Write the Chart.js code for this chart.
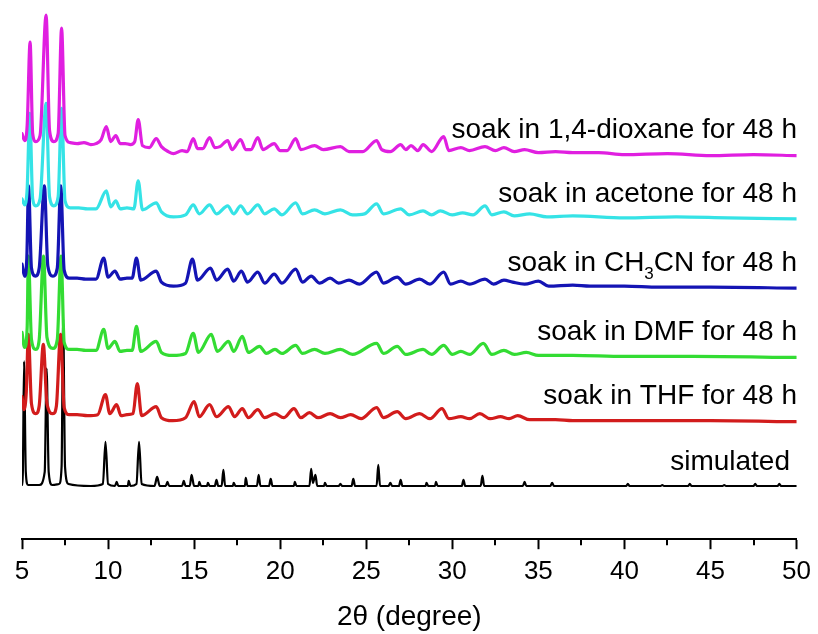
<!DOCTYPE html>
<html>
<head>
<meta charset="utf-8">
<title>PXRD patterns after solvent soaking</title>
<script src="https://cdn.jsdelivr.net/npm/chart.js@4.4.1/dist/chart.umd.min.js"></script>
<style>
  html, body { margin: 0; padding: 0; background: #fff; }
  #wrap { width: 818px; height: 634px; }
</style>
</head>
<body>
<div id="wrap"><canvas id="xrd" width="818" height="634"></canvas></div>
<script>
// pattern labels, top to bottom
const labels = [
  'soak in 1,4-dioxane for 48 h',
  'soak in acetone for 48 h',
  'soak in CH3CN for 48 h',
  'soak in DMF for 48 h',
  'soak in THF for 48 h',
  'simulated',
];

// vertical offset of each pattern in the stack (intensity units)
const offsets = [382, 319, 250, 181, 117, 52];

// [2theta, intensity above offset]
const dioxane = [
  [5.0, 22], [5.15, 15], [5.3, 30], [5.47, 113], [5.62, 22], [5.8, 14],
  [6.05, 20], [6.4, 140], [6.6, 25], [6.85, 14], [7.1, 22], [7.3, 127],
  [7.5, 20], [7.8, 13], [8.2, 12], [8.6, 13], [9.0, 11], [9.3, 12], [9.6, 16], [9.9, 29],
  [10.15, 14], [10.45, 20], [10.7, 12], [11.0, 12], [11.3, 11], [11.55, 14], [11.75, 36],
  [12.0, 10], [12.4, 8], [12.8, 17], [13.1, 9], [13.5, 4], [13.8, 2],
  [14.3, 5], [14.6, 4], [14.95, 17], [15.2, 7], [15.5, 7], [15.9, 18],
  [16.2, 8], [16.5, 9], [16.95, 15], [17.2, 6], [17.7, 16], [18.0, 6],
  [18.3, 6], [18.7, 18], [19.0, 6], [19.65, 12], [20.0, 5], [20.4, 5],
  [20.9, 17], [21.2, 6], [22.0, 10], [22.5, 6], [23.5, 9], [24.0, 4],
  [24.8, 4], [25.6, 15], [25.9, 6], [26.4, 4], [27.0, 11], [27.3, 6],
  [27.6, 10], [28.0, 5], [28.3, 11], [28.8, 4], [29.5, 19], [29.8, 5],
  [30.5, 8], [31.0, 5], [31.9, 9], [32.5, 5], [33.0, 8], [33.6, 4],
  [34.2, 6], [35.0, 3], [36.0, 4], [37.0, 3], [38.5, 3], [40.0, 1], [42.5, 2], [45.0, 0],
  [47.5, 1], [50.0, 0],
];

const acetone = [
  [5.0, 20], [5.15, 14], [5.3, 30], [5.45, 105], [5.62, 20], [5.8, 13],
  [6.05, 20], [6.4, 115], [6.6, 22], [6.85, 13], [7.1, 22], [7.3, 110],
  [7.5, 18], [7.8, 11], [8.3, 11], [8.8, 10], [9.3, 10], [9.9, 28], [10.15, 12],
  [10.45, 18], [10.7, 10], [11.1, 11], [11.5, 10], [11.75, 38], [12.0, 9], [12.8, 16],
  [13.1, 7], [13.8, 2], [14.5, 4], [14.95, 14], [15.3, 5], [15.9, 14],
  [16.3, 5], [16.95, 13], [17.3, 5], [17.7, 13], [18.1, 5], [18.7, 14],
  [19.1, 5], [19.65, 10], [20.1, 4], [20.9, 16], [21.3, 5], [22.0, 9],
  [22.6, 5], [23.5, 9], [24.2, 4], [24.9, 5], [25.6, 15], [26.0, 5], [27.0, 10],
  [27.5, 4], [28.3, 8], [28.8, 4], [29.3, 8], [30.0, 4], [30.6, 6], [31.2, 4], [31.9, 13],
  [32.3, 4], [33.0, 7], [33.6, 3], [34.5, 5], [35.5, 2], [37.0, 3], [40.0, 1],
  [43.0, 2], [46.0, 1], [50.0, 0],
];

const acetonitrile = [
  [5.0, 24], [5.15, 12], [5.28, 30], [5.38, 102], [5.55, 20], [5.78, 12],
  [6.0, 20], [6.3, 102], [6.5, 22], [6.8, 12], [7.05, 20], [7.25, 102],
  [7.45, 18], [7.75, 10], [8.2, 10], [8.7, 9], [9.3, 9], [9.75, 30], [10.0, 11],
  [10.4, 17], [10.7, 9], [11.1, 10], [11.4, 10], [11.65, 30], [11.9, 8], [12.8, 17],
  [13.1, 6], [13.8, 2], [14.5, 5], [14.9, 29], [15.2, 8], [15.95, 20],
  [16.3, 8], [16.95, 19], [17.3, 7], [17.75, 17], [18.1, 6], [18.7, 16],
  [19.1, 5], [19.65, 14], [20.1, 5], [20.9, 19], [21.3, 6], [21.8, 12],
  [22.3, 5], [22.9, 10], [23.4, 5], [24.0, 8], [24.6, 4], [25.6, 16],
  [26.0, 5], [26.8, 11], [27.3, 4], [28.1, 9], [28.7, 4], [29.5, 16],
  [29.9, 4], [30.5, 7], [31.0, 4], [31.9, 9], [32.4, 4], [33.0, 8],
  [33.5, 6], [34.2, 4], [35.0, 7], [35.6, 2], [37.0, 3], [38.0, 2], [40.0, 2],
  [42.0, 1], [45.0, 1], [50.0, 0],
];

const dmf = [
  [5.0, 25], [5.15, 10], [5.3, 30], [5.37, 101], [5.55, 18], [5.8, 8],
  [6.0, 18], [6.25, 101], [6.45, 20], [6.8, 9], [7.05, 18], [7.27, 101],
  [7.45, 15], [7.75, 8], [8.2, 8], [8.7, 7], [9.3, 7], [9.75, 28], [10.0, 9],
  [10.4, 16], [10.7, 6], [11.1, 7], [11.4, 7], [11.65, 31], [11.9, 6], [12.8, 16],
  [13.1, 5], [13.75, 2], [14.5, 4], [14.95, 24], [15.25, 5], [16.0, 23],
  [16.35, 6], [17.0, 16], [17.3, 6], [17.8, 21], [18.15, 5], [18.8, 11],
  [19.2, 4], [19.7, 8], [20.1, 4], [20.9, 12], [21.3, 4], [22.0, 8],
  [22.6, 4], [23.5, 8], [24.2, 3], [25.6, 14], [26.0, 4], [26.8, 11],
  [27.3, 3], [28.3, 8], [28.8, 3], [29.5, 12], [30.0, 3], [30.5, 6],
  [31.0, 3], [31.8, 14], [32.3, 3], [33.0, 7], [33.6, 3], [34.3, 5],
  [35.0, 2], [37.0, 2], [40.0, 1], [44.0, 1], [50.0, 0],
];

const thf = [
  [5.0, 25], [5.12, 12], [5.25, 30], [5.37, 87], [5.55, 18], [5.8, 8],
  [6.0, 16], [6.24, 77], [6.45, 18], [6.8, 8], [7.0, 16], [7.24, 87],
  [7.45, 14], [7.75, 7], [8.2, 7], [8.8, 6], [9.4, 7], [9.85, 27], [10.1, 8],
  [10.5, 17], [10.75, 6], [11.1, 7], [11.45, 8], [11.7, 38], [11.95, 6], [12.8, 15],
  [13.1, 4], [13.75, 1], [14.5, 4], [15.0, 20], [15.3, 5], [15.9, 17],
  [16.3, 5], [17.0, 15], [17.35, 5], [17.8, 13], [18.15, 4], [18.7, 12],
  [19.1, 4], [19.7, 8], [20.2, 4], [20.8, 13], [21.2, 4], [21.7, 9],
  [22.2, 4], [22.9, 8], [23.5, 4], [24.1, 7], [24.7, 3], [25.6, 14],
  [26.0, 4], [26.8, 10], [27.3, 3], [28.1, 8], [28.7, 3], [29.4, 13],
  [29.8, 3], [30.5, 5], [31.0, 3], [31.6, 8], [32.2, 3], [32.8, 5],
  [33.3, 3], [33.8, 6], [34.5, 2], [36.0, 2], [37.0, 1], [40.0, 1], [45.0, 1], [50.0, 0],
];

const simulated = [
  [5.0, 2], [5.05, 15], [5.12, 125], [5.22, 15], [5.35, 2], [6.0, 2],
  [6.32, 15], [6.43, 118], [6.55, 15], [6.75, 2], [7.15, 3], [7.3, 20],
  [7.39, 167], [7.5, 20], [7.7, 3], [9.0, 1], [9.7, 3], [9.85, 45],
  [10.0, 3], [10.4, 1], [10.5, 5], [10.6, 1], [11.15, 1], [11.2, 6],
  [11.3, 1], [11.65, 3], [11.8, 45], [11.95, 3], [12.7, 1], [12.85, 10],
  [13.0, 1], [13.35, 1], [13.45, 5], [13.55, 1], [14.3, 1], [14.4, 6],
  [14.5, 1], [14.75, 1], [14.85, 12], [15.0, 1], [15.25, 1], [15.3, 5],
  [15.4, 1], [15.75, 1], [15.8, 4], [15.9, 1], [16.2, 1], [16.3, 7],
  [16.4, 1], [16.6, 1], [16.7, 17], [16.8, 1], [17.25, 1], [17.3, 4],
  [17.4, 1], [17.95, 1], [18.0, 9], [18.1, 1], [18.65, 1], [18.75, 12],
  [18.85, 1], [19.35, 1], [19.45, 8], [19.55, 1], [20.8, 1], [20.85, 5],
  [20.95, 1], [21.7, 1], [21.8, 18], [21.9, 4], [22.05, 12], [22.15, 1],
  [22.55, 1], [22.6, 4], [22.7, 1], [23.4, 1], [23.5, 3], [23.6, 1],
  [24.15, 1], [24.25, 8], [24.35, 1], [25.6, 1], [25.7, 22], [25.8, 1],
  [26.3, 1], [26.4, 4], [26.5, 1], [26.9, 1], [27.0, 7], [27.1, 1],
  [28.45, 1], [28.5, 4], [28.6, 1], [29.0, 1], [29.05, 5], [29.15, 1],
  [30.55, 1], [30.65, 7], [30.75, 1], [31.65, 1], [31.75, 11], [31.85, 1],
  [34.1, 1], [34.2, 5], [34.3, 1], [35.7, 1], [35.8, 4], [35.9, 1],
  [40.1, 1], [40.2, 3], [40.3, 1], [42.1, 1], [42.2, 2], [42.3, 1],
  [43.7, 1], [43.8, 3], [43.9, 1], [45.7, 1], [45.8, 2], [45.9, 1],
  [47.5, 1], [47.6, 3], [47.7, 1], [48.9, 1], [49.0, 3], [49.1, 1], [50.0, 1],
];

const patterns = [dioxane, acetone, acetonitrile, dmf, thf, simulated];
const colors = ['#e01fe0', '#35e3e6', '#1414b4', '#33dc33', '#d21c1c', '#000000'];
const widths = [3.2, 3.2, 3.2, 3.2, 3.2, 2.2];

const FONT = "Arial, 'Liberation Sans', sans-serif";

// dataset 0 is painted last, so the top pattern overlaps the ones below it
const datasets = patterns.map((pts, i) => ({
  label: labels[i],
  data: pts.map(([x, y]) => ({ x, y: y + offsets[i] })),
  borderColor: colors[i],
  borderWidth: widths[i],
  pointRadius: 0,
  cubicInterpolationMode: 'monotone',
  borderJoinStyle: 'round',
  borderCapStyle: 'round',
  fill: false,
}));

// pattern names written above the right end of each trace
const traceLabels = {
  id: 'traceLabels',
  afterDatasetsDraw(chart) {
    const { ctx, scales: { y } } = chart;
    const big = `28px ${FONT}`;
    const small = `17px ${FONT}`;
    ctx.save();
    ctx.fillStyle = '#000';
    ctx.textBaseline = 'middle';
    labels.forEach((text, i) => {
      const right = i === 5 ? 790 : 797;
      const ty = y.getPixelForValue(offsets[i]) - 25;
      ctx.font = big;
      if (text.includes('CH3CN')) {
        const [head, tail] = text.split('CH3CN');
        const a = head + 'CH';
        const b = 'CN' + tail;
        const wa = ctx.measureText(a).width;
        const wb = ctx.measureText(b).width;
        ctx.font = small;
        const ws = ctx.measureText('3').width;
        const cx = right - wa - ws - wb;
        ctx.textAlign = 'left';
        ctx.font = big;
        ctx.fillText(a, cx, ty);
        ctx.font = small;
        ctx.fillText('3', cx + wa, ty + 11);
        ctx.font = big;
        ctx.fillText(b, cx + wa + ws, ty);
      } else {
        ctx.textAlign = 'right';
        ctx.fillText(text, right, ty);
      }
    });
    ctx.restore();
  },
};

// short minor ticks between the labelled ones
const minorTicks = {
  id: 'minorTicks',
  afterDraw(chart) {
    const { ctx, scales: { x }, chartArea } = chart;
    ctx.save();
    ctx.strokeStyle = '#000';
    ctx.lineWidth = 2;
    x.ticks.forEach(t => {
      if (t.value % 5 === 0) return;
      const px = Math.round(x.getPixelForValue(t.value));
      ctx.beginPath();
      ctx.moveTo(px, chartArea.bottom);
      ctx.lineTo(px, chartArea.bottom + 6);
      ctx.stroke();
    });
    ctx.restore();
  },
};

new Chart(document.getElementById('xrd'), {
  type: 'line',
  data: { datasets },
  options: {
    responsive: false,
    animation: false,
    devicePixelRatio: 1,
    layout: { padding: { left: 22, right: 19, top: 0, bottom: 0 } },
    plugins: {
      legend: { display: false },
      tooltip: { enabled: false },
    },
    scales: {
      x: {
        type: 'linear',
        min: 5,
        max: 50,
        grid: {
          display: true,
          drawOnChartArea: false,
          drawTicks: true,
          tickLength: 10,
          tickWidth: 2,
          tickColor: c => (c.tick && c.tick.value % 5 === 0 ? '#000' : 'rgba(0,0,0,0)'),
        },
        border: { display: true, color: '#000', width: 2 },
        ticks: {
          stepSize: 2.5,
          autoSkip: false,
          maxRotation: 0,
          padding: 7,
          color: '#000',
          font: { family: FONT, size: 26 },
          callback: v => (v % 5 === 0 ? v : ''),
        },
        title: {
          display: true,
          text: '2θ (degree)',
          color: '#000',
          font: { family: FONT, size: 28 },
          padding: { top: 6, bottom: 0 },
        },
      },
      y: {
        display: false,
        min: 0,
        max: 537,
      },
    },
  },
  plugins: [traceLabels, minorTicks],
});
</script>
</body>
</html>
